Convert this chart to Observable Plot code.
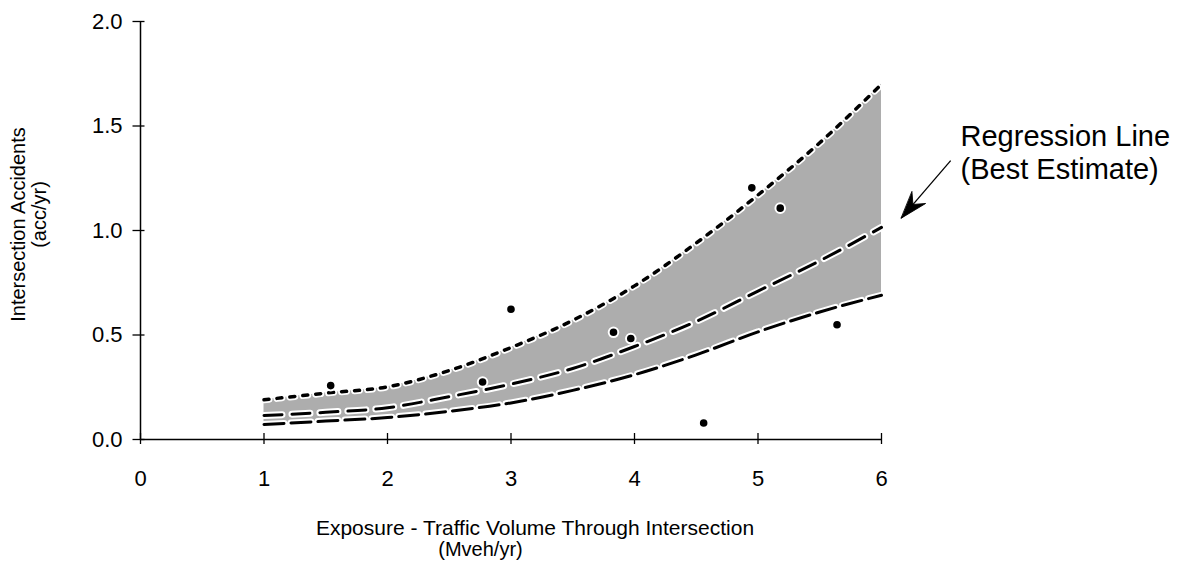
<!DOCTYPE html>
<html><head><meta charset="utf-8">
<script src="https://cdn.jsdelivr.net/npm/d3@7"></script>
<script src="https://cdn.jsdelivr.net/npm/@observablehq/plot@0.6"></script>
<style>html,body{margin:0;padding:0;background:#fff}</style>
</head><body><div id="chart"></div>
<script>
// ---- data ----
const curveX      = [1,     1.5,   2,     2.5,   3,     3.5,   4,     4.5,   5,     5.5,   6];
const upperBound  = [0.19,  0.222, 0.252, 0.33,  0.44,  0.57,  0.735, 0.94,  1.17,  1.42,  1.70];
const regression  = [0.115, 0.13,  0.152, 0.205, 0.265, 0.34,  0.445, 0.565, 0.71,  0.855, 1.015];
const lowerBound  = [0.072, 0.088, 0.105, 0.135, 0.175, 0.235, 0.31,  0.405, 0.515, 0.61,  0.69];

const obsX = [1.54, 2.77, 3.0,  3.83, 3.97, 4.56, 4.95, 5.18, 5.64];
const obsY = [0.258,0.275,0.623,0.513,0.483,0.079,1.204,1.107,0.549];

const xTicks = [0, 1, 2, 3, 4, 5, 6];
const yTicks = [0, 0.5, 1.0, 1.5, 2.0];

const yLabelLines = ["Intersection Accidents", "(acc/yr)"];
const xLabelLines = ["Exposure - Traffic Volume Through Intersection", "(Mveh/yr)"];
const noteLines = ["Regression Line\n(Best Estimate)"];
const noteX = [6.64];
const noteY = [1.377];
const arrowStartX = [6.56], arrowStartY = [1.334];
const arrowTipX = [6.16],   arrowTipY = [1.059];

// ---- tables built from the arrays ----
const band = curveX.map((x, i) => ({x, upper: upperBound[i], mid: regression[i], lower: lowerBound[i]}));
const obs = obsX.map((x, i) => ({x, y: obsY[i]}));
const note = noteLines.map((t, i) => ({t, x: noteX[i], y: noteY[i]}));
const arrow = arrowStartX.map((x1, i) => ({x1, y1: arrowStartY[i], x2: arrowTipX[i], y2: arrowTipY[i]}));

const barb = {
  draw(ctx, l) {
    ctx.moveTo(0, -l);
    ctx.lineTo(-9, -l + 27);
    ctx.lineTo(0, -l + 18);
    ctx.lineTo(9, -l + 27);
    ctx.closePath();
  }
};

const halo = (y, dash) => Plot.line(band, {x: "x", y, curve: "monotone-x", stroke: "white", strokeWidth: 7, strokeDasharray: dash, strokeLinecap: "round"});
const dashed = (y, dash, w) => Plot.line(band, {x: "x", y, curve: "monotone-x", stroke: "black", strokeWidth: w, strokeDasharray: dash});

const chart = Plot.plot({
  width: 1181,
  height: 561,
  marginLeft: 140,
  marginRight: 300,
  marginTop: 21,
  marginBottom: 122,
  style: {fontFamily: "'Liberation Sans', Arial, sans-serif", background: "white", color: "black"},
  x: {domain: [0, 6]},
  y: {domain: [0, 2]},
  marks: [
    Plot.areaY(band, {x: "x", y1: "lower", y2: "upper", curve: "monotone-x", fill: "#adadad"}),
    halo("upper", "5,8"),
    halo("mid", "18,10"),
    halo("lower", "20,7"),
    dashed("upper", "5,8", 3.5),
    dashed("mid", "18,10", 3),
    dashed("lower", "20,7", 3),
    Plot.dot(obs, {x: "x", y: "y", r: 4.8, fill: "black", stroke: "white", strokeWidth: 2}),
    // axes
    Plot.ruleY([0], {stroke: "black", strokeWidth: 1.5}),
    Plot.ruleX([0], {stroke: "black", strokeWidth: 1.5}),
    Plot.axisX({ticks: xTicks, tickSize: 11, dy: -6, tickFormat: () => "", label: null, strokeWidth: 1.3}),
    Plot.axisX({ticks: xTicks, tickSize: 0, tickPadding: 31, fontSize: 22, tickFormat: d3.format("d"), label: null}),
    Plot.axisY({ticks: yTicks, tickSize: 12, dx: 4.5, tickFormat: () => "", label: null, strokeWidth: 1.3}),
    Plot.axisY({ticks: yTicks, tickSize: 0, tickPadding: 18, fontSize: 22, tickFormat: d3.format(".1f"), label: null}),
    // axis titles
    Plot.text([yLabelLines[0]], {frameAnchor: "left", text: d => d, rotate: -90, textAnchor: "middle", lineAnchor: "middle", fontSize: 20, dx: -121.5, dy: -6}),
    Plot.text([yLabelLines[1]], {frameAnchor: "left", text: d => d, rotate: -90, textAnchor: "middle", lineAnchor: "middle", fontSize: 20, dx: -100.5, dy: -16}),
    Plot.text([xLabelLines[0]], {frameAnchor: "bottom", text: d => d, textAnchor: "middle", lineAnchor: "middle", fontSize: 21, dx: 24, dy: 88.5}),
    Plot.text([xLabelLines[1]], {frameAnchor: "bottom", text: d => d, textAnchor: "middle", lineAnchor: "middle", fontSize: 20, dx: -30.5, dy: 110.5}),
    // annotation
    Plot.text(note, {x: "x", y: "y", text: "t", textAnchor: "start", fontSize: 29, lineHeight: 1.15}),
    Plot.link(arrow, {x1: "x1", y1: "y1", x2: "x2", y2: "y2", stroke: "black", strokeWidth: 1.3}),
    Plot.vector(arrow, {x: "x2", y: "y2", rotate: 220.5, length: 27, anchor: "end", shape: barb, fill: "black", stroke: "black", strokeWidth: 0.8})
  ]
});
document.getElementById("chart").appendChild(chart);
</script>
</body></html>
